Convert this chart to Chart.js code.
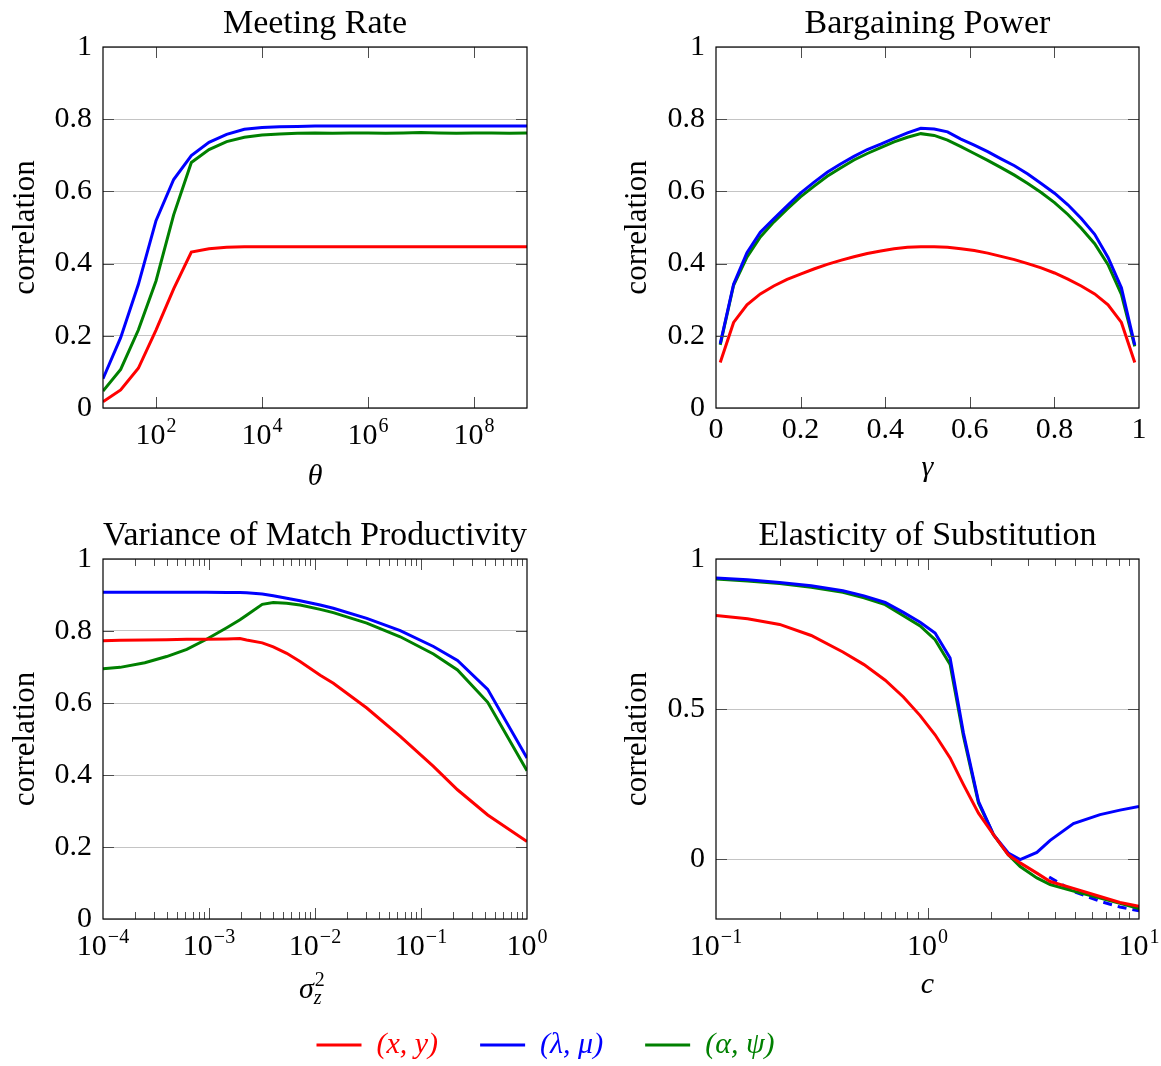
<!DOCTYPE html>
<html>
<head>
<meta charset="utf-8">
<script src="https://cdn.jsdelivr.net/npm/chart.js@4.4.1/dist/chart.umd.min.js"></script>
<style>
html, body { margin: 0; padding: 0; background: #ffffff; }
body { width: 1161px; height: 1066px; position: relative; overflow: hidden; }
canvas { position: absolute; display: block; }
</style>
</head>
<body>
<canvas id="cTL" width="580" height="505" style="left:0px;top:0px"></canvas>
<canvas id="cTR" width="581" height="505" style="left:580px;top:0px"></canvas>
<canvas id="cBL" width="580" height="515" style="left:0px;top:505px"></canvas>
<canvas id="cBR" width="581" height="515" style="left:580px;top:505px"></canvas>
<canvas id="cLeg" width="1091" height="240" style="left:0px;top:988px"></canvas>
<script>
// ---------------- Data ----------------
const seriesNames = ['(x, y)', '(λ, μ)', '(α, ψ)'];
const seriesColors = ['#ff0000', '#0000ff', '#008000'];

const corrTicks = [0, 0.2, 0.4, 0.6, 0.8, 1];
const corrTickLabels = ['0', '0.2', '0.4', '0.6', '0.8', '1'];

// Meeting Rate
const thetaValues = [10, 21.54, 46.42, 100, 215.4, 464.2, 1e3, 2154, 4642, 1e4, 21544, 46416, 1e5, 215443, 464159, 1e6, 2.154e6, 4.642e6, 1e7, 2.154e7, 4.642e7, 1e8, 2.154e8, 4.642e8, 1e9];
const meetingXY = [0.017, 0.05, 0.11, 0.216, 0.33, 0.432, 0.441, 0.445, 0.447, 0.447, 0.447, 0.447, 0.447, 0.447, 0.447, 0.447, 0.447, 0.447, 0.447, 0.447, 0.447, 0.447, 0.447, 0.447, 0.447];
const meetingLambdaMu = [0.081, 0.195, 0.342, 0.519, 0.633, 0.699, 0.736, 0.758, 0.772, 0.777, 0.779, 0.78, 0.781, 0.781, 0.781, 0.781, 0.781, 0.781, 0.781, 0.781, 0.781, 0.781, 0.781, 0.781, 0.781];
const meetingAlphaPsi = [0.047, 0.107, 0.216, 0.352, 0.535, 0.68, 0.716, 0.738, 0.75, 0.756, 0.759, 0.761, 0.762, 0.761, 0.762, 0.762, 0.761, 0.762, 0.763, 0.762, 0.761, 0.762, 0.762, 0.761, 0.762];
const thetaTicks = [1e2, 1e4, 1e6, 1e8];
const thetaTickLabels = ['10^2', '10^4', '10^6', '10^8'];

// Bargaining Power
const gammaValues = [0.0100, 0.0416, 0.0732, 0.1048, 0.1365, 0.1681, 0.1997, 0.2313, 0.2629, 0.2945, 0.3261, 0.3577, 0.3894, 0.4210, 0.4526, 0.4842, 0.5158, 0.5474, 0.5790, 0.6106, 0.6423, 0.6739, 0.7055, 0.7371, 0.7687, 0.8003, 0.8319, 0.8635, 0.8952, 0.9268, 0.9584, 0.9900];
const bargXY = [0.126, 0.237, 0.286, 0.316, 0.338, 0.356, 0.371, 0.385, 0.398, 0.409, 0.419, 0.428, 0.435, 0.441, 0.445, 0.447, 0.447, 0.445, 0.441, 0.436, 0.429, 0.420, 0.411, 0.400, 0.388, 0.374, 0.357, 0.338, 0.316, 0.286, 0.237, 0.126];
const bargLambdaMu = [0.178, 0.343, 0.43, 0.487, 0.524, 0.56, 0.595, 0.625, 0.653, 0.676, 0.697, 0.716, 0.731, 0.747, 0.762, 0.775, 0.773, 0.765, 0.745, 0.728, 0.71, 0.69, 0.671, 0.648, 0.622, 0.595, 0.563, 0.525, 0.481, 0.417, 0.333, 0.174];
const bargAlphaPsi = [0.175, 0.34, 0.418, 0.474, 0.515, 0.551, 0.585, 0.614, 0.642, 0.665, 0.687, 0.705, 0.721, 0.737, 0.75, 0.76, 0.755, 0.742, 0.724, 0.705, 0.686, 0.666, 0.645, 0.622, 0.597, 0.569, 0.536, 0.498, 0.455, 0.397, 0.315, 0.171];
const gammaTicks = [0, 0.2, 0.4, 0.6, 0.8, 1];
const gammaTickLabels = ['0', '0.2', '0.4', '0.6', '0.8', '1'];

// Variance of Match Productivity
const sigmaValues = [1e-4, 1.45e-4, 2.48e-4, 3.98e-4, 6.17e-4, 9.48e-4, 1.47e-3, 1.96e-3, 2.26e-3, 3.18e-3, 4.04e-3, 5.41e-3, 7.23e-3, 1.12e-2, 1.49e-2, 3.08e-2, 6.37e-2, 0.131, 0.221, 0.426, 1];
const varXY = [0.773, 0.774, 0.775, 0.776, 0.777, 0.777, 0.778, 0.779, 0.775, 0.767, 0.756, 0.738, 0.715, 0.677, 0.655, 0.586, 0.507, 0.424, 0.359, 0.289, 0.215];
const varLambdaMu = [0.9075, 0.9075, 0.9075, 0.9075, 0.9075, 0.9075, 0.907, 0.907, 0.906, 0.903, 0.898, 0.891, 0.884, 0.872, 0.863, 0.835, 0.801, 0.757, 0.718, 0.638, 0.447];
const varAlphaPsi = [0.695, 0.699, 0.712, 0.729, 0.749, 0.777, 0.809, 0.831, 0.844, 0.874, 0.879, 0.877, 0.872, 0.86, 0.851, 0.822, 0.784, 0.736, 0.692, 0.602, 0.412];
const sigmaTicks = [1e-4, 1e-3, 1e-2, 1e-1, 1];
const sigmaTickLabels = ['10^−4', '10^−3', '10^−2', '10^−1', '10^0'];

// Elasticity of Substitution
const cValues = [0.1, 0.141, 0.2, 0.282, 0.398, 0.501, 0.631, 0.769, 0.923, 1.086, 1.279, 1.479, 1.742, 2.051, 2.41, 2.742, 3.289, 3.802, 4.898, 6.546, 8.128, 10];
const elasXY = [0.812, 0.801, 0.782, 0.745, 0.69, 0.648, 0.596, 0.54, 0.478, 0.414, 0.337, 0.248, 0.153, 0.081, 0.014, -0.013, -0.047, -0.075, -0.098, -0.125, -0.145, -0.158];
const elasLambdaMu = [0.937, 0.931, 0.922, 0.911, 0.894, 0.877, 0.855, 0.822, 0.789, 0.753, 0.67, 0.42, 0.192, 0.081, 0.02, -0.002, 0.022, 0.062, 0.118, 0.148, 0.163, 0.175];
const elasAlphaPsi = [0.933, 0.927, 0.918, 0.906, 0.889, 0.871, 0.848, 0.811, 0.777, 0.731, 0.648, 0.409, 0.187, 0.081, 0.014, -0.025, -0.063, -0.085, -0.107, -0.13, -0.148, -0.165];
const cDashedValues = [3.76, 4.898, 6.546, 8.128, 10];
const elasLambdaMuDashed = [-0.06, -0.108, -0.141, -0.16, -0.173];
const cTicks = [0.1, 1, 10];
const cTickLabels = ['10^−1', '10^0', '10^1'];
const elasCorrTicks = [0, 0.5, 1];
const elasCorrTickLabels = ['0', '0.5', '1'];

// ---------------- Helpers ----------------
const FONT = '"Liberation Serif", "Times New Roman", serif';

function minorLogTicks(d0, d1) {
  const out = [];
  for (let d = d0; d < d1; d++) for (let m = 2; m <= 9; m++) out.push(m * Math.pow(10, d));
  return out;
}

function pts(xs, ys) { return xs.map((x, i) => ({ x: x, y: ys[i] })); }

function ds(xs, ys, color, dash) {
  return { data: pts(xs, ys), borderColor: color, backgroundColor: color, borderWidth: 3,
           pointRadius: 0, fill: false, tension: 0, borderDash: dash || [] };
}

function decor(spec) {
  return {
    id: 'decor',
    afterDatasetsDraw(chart) {
      const ctx = chart.ctx, a = chart.chartArea;
      const xs = chart.scales.x, ys = chart.scales.y;
      ctx.save();
      ctx.lineWidth = 1;
      ctx.strokeStyle = '#4d4d4d';
      ctx.beginPath();
      const vx = (v, len) => {
        const p = Math.round(xs.getPixelForValue(v)) + 0.5;
        if (p <= a.left + 1.5 || p >= a.right - 1.5) return;
        ctx.moveTo(p, a.bottom); ctx.lineTo(p, a.bottom - len);
        ctx.moveTo(p, a.top); ctx.lineTo(p, a.top + len);
      };
      const vy = (v, len) => {
        const p = Math.round(ys.getPixelForValue(v)) + 0.5;
        if (p <= a.top + 1.5 || p >= a.bottom - 1.5) return;
        ctx.moveTo(a.left, p); ctx.lineTo(a.left + len, p);
        ctx.moveTo(a.right, p); ctx.lineTo(a.right - len, p);
      };
      spec.xTicks.forEach(v => vx(v, 11));
      (spec.xMinor || []).forEach(v => vx(v, 7));
      spec.yTicks.forEach(v => vy(v, 11));
      ctx.stroke();
      ctx.strokeStyle = '#000000';
      ctx.lineWidth = 1.2;
      ctx.strokeRect(a.left, a.top, a.right - a.left, a.bottom - a.top);
      // power-of-ten tick labels with raised exponents
      if (spec.expLabels) {
        ctx.fillStyle = '#000000';
        ctx.textBaseline = 'alphabetic';
        ctx.textAlign = 'left';
        spec.xTicks.forEach((v, i) => {
          const parts = spec.xTickLabels[i].split('^');
          const base = parts[0], ex = parts[1] || '';
          ctx.font = '30px ' + FONT;
          const wb = ctx.measureText(base).width;
          ctx.font = '20px ' + FONT;
          const we = ctx.measureText(ex).width;
          const x0 = xs.getPixelForValue(v) - (wb + we + 1) / 2;
          ctx.font = '30px ' + FONT;
          ctx.fillText(base, x0, spec.expBaseline);
          ctx.font = '20px ' + FONT;
          ctx.fillText(ex, x0 + wb + 1, spec.expBaseline - 12);
        });
      }
      if (spec.extraDraw) spec.extraDraw(ctx);
      ctx.restore();
    }
  };
}

function makeChart(id, spec) {
  const titleLH = 34 * 1.2;
  return new Chart(document.getElementById(id), {
    type: 'line',
    data: { datasets: spec.datasets },
    options: {
      responsive: false,
      animation: false,
      devicePixelRatio: 1,
      layout: { padding: { left: 0, top: 0, bottom: 0, right: spec.W - spec.R } },
      plugins: {
        legend: { display: false },
        tooltip: { enabled: false },
        title: {
          display: true, text: spec.title, color: '#000000', fullSize: false,
          font: { family: FONT, size: 34, weight: 'normal', lineHeight: 1.2 },
          padding: { top: spec.titlePadTop, bottom: spec.T - spec.titlePadTop - titleLH }
        }
      },
      scales: {
        x: {
          type: spec.xType, min: spec.xMin, max: spec.xMax,
          grid: { display: false, drawTicks: false },
          border: { display: false },
          afterBuildTicks: s => { s.ticks = spec.xTicks.map(v => ({ value: v })); },
          afterFit: s => { s.height = spec.H - spec.B; s.paddingLeft = 0; s.paddingRight = 0; },
          ticks: {
            display: !spec.expLabels,
            autoSkip: false, maxRotation: 0, minRotation: 0, padding: spec.xTickPad || 4,
            color: '#000000', font: { family: FONT, size: 30 },
            callback: (v, i) => spec.xTickLabels[i]
          },
          title: {
            display: !!spec.xTitle, text: spec.xTitle || '', color: '#000000',
            font: { family: FONT, size: 30, style: 'italic' },
            padding: { top: 0, bottom: spec.xTitlePad || 0 }
          }
        },
        y: {
          type: 'linear', min: spec.yMin, max: spec.yMax,
          afterBuildTicks: s => { s.ticks = spec.yTicks.map(v => ({ value: v })); },
          afterFit: s => { s.width = spec.L; s.paddingTop = 0; s.paddingBottom = 0; },
          grid: { color: '#c4c4c4', lineWidth: 1, drawTicks: false },
          border: { display: false },
          ticks: {
            padding: 11, color: '#000000', font: { family: FONT, size: 30 },
            callback: (v, i) => spec.yTickLabels[i]
          },
          title: {
            display: true, text: 'correlation', color: '#000000',
            font: { family: FONT, size: 31 },
            padding: { top: spec.yTitlePad, bottom: 0 }
          }
        }
      }
    },
    plugins: [decor(spec)]
  });
}

// ---------------- Charts ----------------
makeChart('cTL', {
  W: 580, H: 505, L: 103, R: 527, T: 47, B: 408, titlePadTop: 4,
  title: 'Meeting Rate',
  xType: 'logarithmic', xMin: 10, xMax: 1e9, xTicks: thetaTicks, xTickLabels: thetaTickLabels,
  expLabels: true, expBaseline: 444,
  xTitle: 'θ', xTitlePad: 10,
  yMin: 0, yMax: 1, yTicks: corrTicks, yTickLabels: corrTickLabels, yTitlePad: 7,
  datasets: [ds(thetaValues, meetingXY, seriesColors[0]), ds(thetaValues, meetingLambdaMu, seriesColors[1]), ds(thetaValues, meetingAlphaPsi, seriesColors[2])]
});

makeChart('cTR', {
  W: 581, H: 505, L: 136, R: 559, T: 47, B: 408, titlePadTop: 4,
  title: 'Bargaining Power',
  xType: 'linear', xMin: 0, xMax: 1, xTicks: gammaTicks, xTickLabels: gammaTickLabels, xTickPad: 4,
  xTitle: 'γ', xTitlePad: 19,
  yMin: 0, yMax: 1, yTicks: corrTicks, yTickLabels: corrTickLabels, yTitlePad: 39,
  datasets: [ds(gammaValues, bargXY, seriesColors[0]), ds(gammaValues, bargLambdaMu, seriesColors[1]), ds(gammaValues, bargAlphaPsi, seriesColors[2])]
});

makeChart('cBL', {
  W: 580, H: 515, L: 103, R: 527, T: 54, B: 414, titlePadTop: 11,
  title: 'Variance of Match Productivity',
  xType: 'logarithmic', xMin: 1e-4, xMax: 1, xTicks: sigmaTicks, xTickLabels: sigmaTickLabels,
  expLabels: true, expBaseline: 450,
  xMinor: minorLogTicks(-4, 0),
  xTitle: '', xTitlePad: 0,
  yMin: 0, yMax: 1, yTicks: corrTicks, yTickLabels: corrTickLabels, yTitlePad: 7,
  extraDraw: ctx => {
    ctx.fillStyle = '#000000';
    ctx.textBaseline = 'alphabetic';
    ctx.textAlign = 'left';
    ctx.font = 'italic 30px ' + FONT;
    const x0 = 299;
    ctx.fillText('σ', x0, 493);
    const w = ctx.measureText('σ').width;
    ctx.font = '20px ' + FONT;
    ctx.fillText('2', x0 + w + 1, 481);
    ctx.font = 'italic 20px ' + FONT;
    ctx.fillText('z', x0 + w, 499);
  },
  datasets: [ds(sigmaValues, varXY, seriesColors[0]), ds(sigmaValues, varLambdaMu, seriesColors[1]), ds(sigmaValues, varAlphaPsi, seriesColors[2])]
});

makeChart('cBR', {
  W: 581, H: 515, L: 136, R: 559, T: 54, B: 414, titlePadTop: 11,
  title: 'Elasticity of Substitution',
  xType: 'logarithmic', xMin: 0.1, xMax: 10, xTicks: cTicks, xTickLabels: cTickLabels,
  expLabels: true, expBaseline: 450,
  xMinor: minorLogTicks(-1, 1),
  xTitle: 'c', xTitlePad: 17,
  yMin: -0.2, yMax: 1, yTicks: elasCorrTicks, yTickLabels: elasCorrTickLabels, yTitlePad: 39,
  datasets: [ds(cValues, elasXY, seriesColors[0]), ds(cValues, elasLambdaMu, seriesColors[1]), ds(cValues, elasAlphaPsi, seriesColors[2]), ds(cDashedValues, elasLambdaMuDashed, seriesColors[1], [9, 6])]
});

// ---------------- Legend ----------------
new Chart(document.getElementById('cLeg'), {
  type: 'line',
  data: { datasets: seriesNames.map((n, i) => ({ label: n, data: [], borderColor: seriesColors[i], backgroundColor: seriesColors[i] })) },
  options: {
    responsive: false, animation: false, devicePixelRatio: 1,
    layout: { padding: 0 },
    scales: { x: { display: false }, y: { display: false } },
    plugins: {
      tooltip: { enabled: false },
      title: { display: false },
      legend: {
        display: true, position: 'top',
        labels: {
          boxWidth: 45, boxHeight: 3, padding: 42,
          font: { family: FONT, size: 30, style: 'italic' },
          generateLabels: chart => chart.data.datasets.map((d, i) => ({
            text: d.label, fillStyle: d.borderColor, strokeStyle: d.borderColor, lineWidth: 0,
            fontColor: d.borderColor, hidden: false, datasetIndex: i
          }))
        }
      }
    }
  }
});
</script>
</body>
</html>
